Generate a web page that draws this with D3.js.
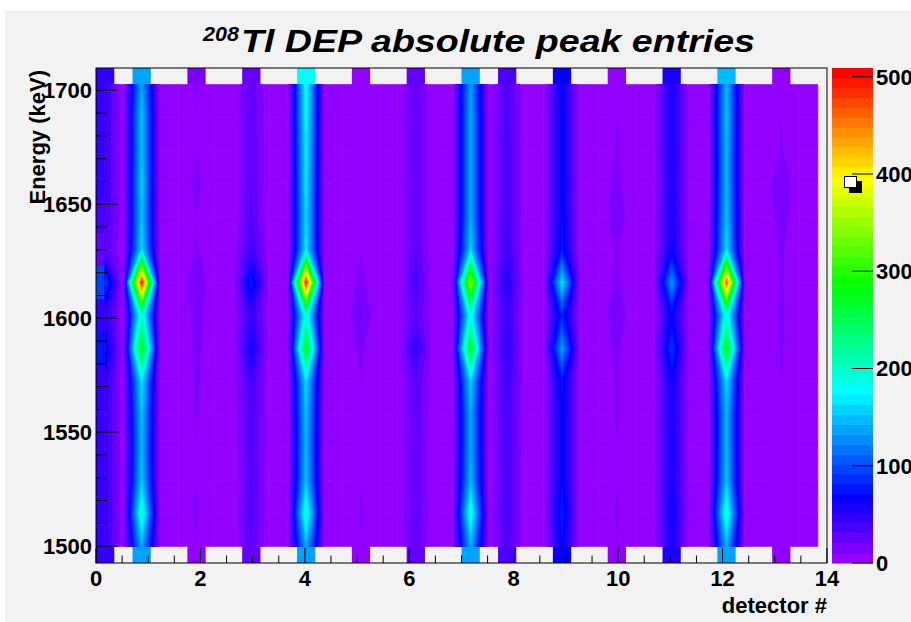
<!DOCTYPE html>
<html>
<head>
<meta charset="utf-8">
<script src="https://cdn.jsdelivr.net/npm/d3@7/dist/d3.min.js"></script>
<style>
  body { margin: 0; background: #ffffff; }
  svg { display: block; }
  text { font-family: "Liberation Sans", Arial, Helvetica, sans-serif; font-weight: bold; fill: #000; }
</style>
</head>
<body>
<svg id="chart" width="911" height="622"></svg>
<script>
// ---- histogram layout ----
const xRange = [0, 14];          // detector axis
const nBinsX = 40;
const energyRange = [1492.6, 1709.8]; // keV
const nBinsE = 15;

// x bin occupied by each detector (detector # 0..13)
const detectorBins = [0, 2, 5, 8, 11, 14, 17, 20, 22, 25, 28, 31, 34, 37];

// peak entries per detector, energy bins from low to high
const counts = [
  [45, 50, 45, 48, 45, 50, 75, 48, 95, 30, 40, 45, 42, 45, 45],
  [140, 195, 152, 145, 150, 165, 285, 195, 490, 160, 150, 155, 150, 152, 138],
  [10, 11, 10, 10, 11, 12, 13, 14, 20, 11, 10, 13, 10, 10, 11],
  [28, 35, 32, 35, 35, 40, 62, 45, 80, 40, 32, 30, 30, 28, 26],
  [140, 195, 150, 145, 150, 160, 275, 190, 485, 165, 160, 165, 170, 175, 180],
  [9, 11, 10, 9, 10, 10, 12, 22, 13, 10, 9, 9, 9, 9, 9],
  [25, 28, 25, 26, 28, 30, 48, 30, 38, 28, 25, 25, 26, 25, 25],
  [140, 190, 145, 140, 140, 155, 275, 185, 355, 155, 140, 140, 140, 140, 135],
  [35, 40, 38, 40, 40, 42, 50, 45, 55, 42, 40, 38, 38, 36, 35],
  [68, 80, 70, 70, 70, 72, 135, 80, 165, 75, 70, 68, 70, 68, 66],
  [10, 11, 10, 10, 11, 11, 12, 20, 12, 11, 18, 13, 11, 10, 10],
  [60, 65, 60, 62, 60, 62, 90, 65, 130, 62, 60, 58, 60, 60, 60],
  [140, 195, 150, 145, 145, 160, 280, 190, 465, 160, 150, 145, 145, 150, 145],
  [9, 10, 9, 9, 10, 10, 11, 12, 11, 12, 16, 20, 11, 10, 9]
];

const zMax = 509;
const nLevels = 50;

const xTicks = [0, 2, 4, 6, 8, 10, 12, 14];
const energyTicks = [1500, 1550, 1600, 1650, 1700];
const zTicks = [0, 100, 200, 300, 400, 500];

const titleMain = "Tl DEP absolute peak entries";
const titleSup = "208";
const xTitle = "detector #";
const yTitle = "Energy (keV)";

// ---- frame geometry ----
const frame = { left: 96, right: 827, top: 68, bottom: 563 };
const bar = { left: 832, right: 873 };

const svg = d3.select("#chart");

const x = d3.scaleLinear().domain(xRange).range([frame.left, frame.right]);
const y = d3.scaleLinear().domain(energyRange).range([frame.bottom, frame.top]);
const zPos = d3.scaleLinear().domain([0, zMax]).range([frame.bottom, frame.top]);

const dz = zMax / nLevels;
const level = v => Math.max(0, Math.min(nLevels - 1, Math.floor(v / dz)));
// violet -> red spectrum at fixed lightness and saturation
const palette = d3.range(nLevels).map(k => d3.hsl(280 - (k + 1) * (280 / nLevels), 1, 0.5).formatRgb());

const bwX = (xRange[1] - xRange[0]) / nBinsX;
const bwE = (energyRange[1] - energyRange[0]) / nBinsE;
const xCenter = i => xRange[0] + (i + 0.5) * bwX;
const eCenter = j => energyRange[0] + (j + 0.5) * bwE;

// full 2D grid of bin contents
const grid = d3.range(nBinsX).map(() => d3.range(nBinsE).map(() => 0));
detectorBins.forEach((b, d) => counts[d].forEach((v, j) => { grid[b][j] = v; }));

// pad background
svg.append("rect").attr("x", 5).attr("y", 10).attr("width", 906).attr("height", 612).attr("fill", "#f2f2f2");

// ---- filled bins (box per non-empty bin) ----
const cells = [];
for (let i = 0; i < nBinsX; i++)
  for (let j = 0; j < nBinsE; j++)
    if (grid[i][j] > 0) cells.push({ i, j, v: grid[i][j] });

svg.append("g").selectAll("rect").data(cells).join("rect")
  .attr("x", d => x(xRange[0] + d.i * bwX))
  .attr("width", d => x(xRange[0] + (d.i + 1) * bwX) - x(xRange[0] + d.i * bwX))
  .attr("y", d => y(energyRange[0] + (d.j + 1) * bwE))
  .attr("height", d => y(energyRange[0] + d.j * bwE) - y(energyRange[0] + (d.j + 1) * bwE))
  .attr("fill", d => palette[level(d.v)]);

// ---- interpolated colour surface between bin centres ----
function clipAbove(pts, t) {
  const out = [];
  for (let n = 0; n < pts.length; n++) {
    const a = pts[n], b = pts[(n + 1) % pts.length];
    const ain = a.v >= t, bin = b.v >= t;
    if (ain) out.push([a.px, a.py]);
    if (ain !== bin) {
      const f = (t - a.v) / (b.v - a.v);
      out.push([a.px + f * (b.px - a.px), a.py + f * (b.py - a.py)]);
    }
  }
  return out;
}

const polys = [];
for (let i = 0; i < nBinsX - 1; i++) {
  for (let j = 0; j < nBinsE - 1; j++) {
    const corners = [[i, j], [i + 1, j], [i + 1, j + 1], [i, j + 1]].map(([a, b]) => ({
      px: x(xCenter(a)), py: y(eCenter(b)), v: grid[a][b]
    }));
    const vals = corners.map(c => c.v);
    const kmin = level(d3.min(vals)), kmax = level(d3.max(vals));
    polys.push({ k: kmin, pts: corners.map(c => [c.px, c.py]) });
    for (let k = kmin + 1; k <= kmax; k++) {
      const p = clipAbove(corners, k * dz);
      if (p.length >= 3) polys.push({ k, pts: p });
    }
  }
}
polys.sort((a, b) => a.k - b.k);

const line = d3.line().curve(d3.curveLinearClosed);
svg.append("g").selectAll("path").data(polys).join("path")
  .attr("d", d => line(d.pts))
  .attr("fill", d => palette[d.k])
  .attr("stroke", d => palette[d.k])
  .attr("stroke-width", 0.6)
  .attr("stroke-linejoin", "round");

// ---- frame and axes ----
svg.append("rect")
  .attr("x", frame.left).attr("y", frame.top)
  .attr("width", frame.right - frame.left).attr("height", frame.bottom - frame.top)
  .attr("fill", "none").attr("stroke", "#000").attr("stroke-width", 1);

const axisG = svg.append("g").attr("stroke", "#000").attr("stroke-width", 1);
// x ticks: majors every 2, minors every 0.5
const xMinor = d3.range(xRange[0], xRange[1] + 0.001, 0.5);
axisG.selectAll("line.xt").data(xMinor).join("line")
  .attr("x1", d => x(d)).attr("x2", d => x(d))
  .attr("y1", frame.bottom)
  .attr("y2", d => frame.bottom - (xTicks.includes(d) ? 15 : 7.5));
// y ticks: majors every 50 keV, minors every 10 keV
const eMinor = d3.range(1500, energyRange[1], 10);
axisG.selectAll("line.yt").data(eMinor).join("line")
  .attr("y1", d => y(d)).attr("y2", d => y(d))
  .attr("x1", frame.left)
  .attr("x2", d => frame.left + (energyTicks.includes(d) ? 22 : 11));

svg.append("g").selectAll("text").data(xTicks).join("text")
  .attr("x", d => x(d)).attr("y", 586)
  .attr("text-anchor", "middle").attr("font-size", 22)
  .text(d => d);

svg.append("g").selectAll("text").data(energyTicks).join("text")
  .attr("x", 92).attr("y", d => y(d)).attr("dy", "0.36em")
  .attr("text-anchor", "end").attr("font-size", 22)
  .text(d => d);

svg.append("text")
  .attr("x", frame.right).attr("y", 613)
  .attr("text-anchor", "end").attr("font-size", 22)
  .text(xTitle);

svg.append("text")
  .attr("transform", `translate(45,${frame.top + 2}) rotate(-90)`)
  .attr("text-anchor", "end").attr("font-size", 22)
  .text(yTitle);

// ---- title ----
svg.append("text")
  .attr("x", 203).attr("y", 41)
  .attr("font-style", "italic").attr("font-size", 21)
  .attr("textLength", 36).attr("lengthAdjust", "spacingAndGlyphs")
  .text(titleSup);
svg.append("text")
  .attr("x", 241).attr("y", 52)
  .attr("font-style", "italic").attr("font-size", 32)
  .attr("textLength", 514).attr("lengthAdjust", "spacingAndGlyphs")
  .text(titleMain);

// ---- colour scale ----
svg.append("g").selectAll("rect").data(d3.range(nLevels)).join("rect")
  .attr("x", bar.left).attr("width", bar.right - bar.left)
  .attr("y", k => zPos((k + 1) * dz))
  .attr("height", k => zPos(k * dz) - zPos((k + 1) * dz) + 0.5)
  .attr("fill", k => palette[k]);

svg.append("g").attr("stroke", "#000").selectAll("line").data(zTicks).join("line")
  .attr("x1", bar.right).attr("x2", bar.right - 21)
  .attr("y1", d => zPos(d)).attr("y2", d => zPos(d));

svg.append("g").selectAll("text").data(zTicks).join("text")
  .attr("x", 876).attr("y", d => zPos(d)).attr("dy", "0.36em")
  .attr("text-anchor", "start").attr("font-size", 22)
  .text(d => d);

// small shadowed box on the colour scale
svg.append("rect").attr("x", 849).attr("y", 181).attr("width", 13).attr("height", 12).attr("fill", "#000");
svg.append("rect").attr("x", 844.5).attr("y", 176.5).attr("width", 12).attr("height", 11)
  .attr("fill", "#fff").attr("stroke", "#000").attr("stroke-width", 1);
</script>
</body>
</html>
